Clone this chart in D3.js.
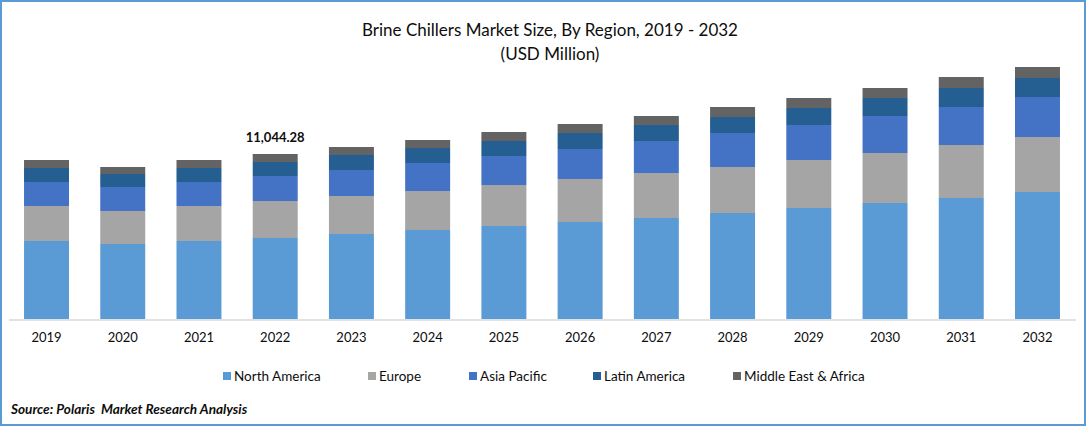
<!DOCTYPE html>
<html lang="en">
<head>
  <meta charset="UTF-8">
  <title>Brine Chillers Market Size, By Region, 2019 - 2032</title>
  <script src="https://cdnjs.cloudflare.com/ajax/libs/d3/7.9.0/d3.min.js"></script>
  <style>
    html, body { margin: 0; padding: 0; background: #fff; }
    svg { display: block; }
    text { font-family: Lato, "Open Sans", sans-serif; fill: #0d0d0d; }
  </style>
</head>
<body>
  <svg width="1086" height="426"></svg>

  <script>
    // Values, USD million
    const years = ["2019", "2020", "2021", "2022", "2023", "2024", "2025", "2026", "2027", "2028", "2029", "2030", "2031", "2032"];
    const regions = ["North America", "Europe", "Asia Pacific", "Latin America", "Middle East & Africa"];
    const northAmerica = [5220, 5020, 5220, 5421, 5689, 5957, 6224, 6492, 6760, 7094, 7429, 7764, 8098, 8500];
    const europe = [2343, 2209, 2343, 2476, 2543, 2610, 2744, 2878, 3012, 3079, 3213, 3347, 3547, 3681];
    const asiaPacific = [1606, 1606, 1606, 1675, 1740, 1874, 1941, 2008, 2142, 2276, 2343, 2476, 2543, 2677];
    const latinAmerica = [937, 870, 937, 937, 1004, 1004, 1004, 1071, 1071, 1071, 1138, 1205, 1272, 1272];
    const middleEastAfrica = [535, 469, 535, 535, 535, 535, 602, 602, 602, 669, 669, 669, 736, 736];
    const colors = ["#5b9bd5", "#a5a5a5", "#4472c4", "#255e91", "#636363"];
    const labelYear = "2022";
    const labelText = "11,044.28";

    const svg = d3.select("svg");
    const seriesValues = [northAmerica, europe, asiaPacific, latinAmerica, middleEastAfrica];

    // Frame around the whole chart
    svg.append("rect")
      .attr("x", 1).attr("y", 1).attr("width", 1084).attr("height", 424)
      .attr("fill", "none").attr("stroke", "#5b9bd5").attr("stroke-width", 2);

    // Title
    const title = svg.append("text").attr("text-anchor", "middle").attr("font-size", 17);
    title.append("tspan").attr("x", 550).attr("y", 36).text("Brine Chillers Market Size, By Region, 2019 - 2032");
    title.append("tspan").attr("x", 550).attr("y", 60).text("(USD Million)");

    // Scales
    const x = d3.scaleBand().domain(years).range([8.4, 1075.6]).paddingInner(0.41).paddingOuter(0.205);
    const y = d3.scaleLinear().domain([0, 17000]).range([319, 65]);

    // Stack the series
    const rows = years.map((year, i) => {
      const row = { year };
      regions.forEach((r, s) => { row[r] = seriesValues[s][i]; });
      return row;
    });
    const stacked = d3.stack().keys(regions)(rows);

    svg.append("g").selectAll("g")
      .data(stacked)
      .join("g")
      .attr("fill", (d, i) => colors[i])
      .selectAll("rect")
      .data(d => d)
      .join("rect")
      .attr("x", d => x(d.data.year))
      .attr("y", d => y(d[1]))
      .attr("width", x.bandwidth())
      .attr("height", d => y(d[0]) - y(d[1]));

    // X axis
    const axis = svg.append("g")
      .attr("transform", "translate(0,319.5)")
      .call(d3.axisBottom(x).tickSize(0).tickPadding(13));
    axis.select(".domain").attr("stroke", "#d9d9d9").attr("stroke-width", 1.5);
    axis.selectAll("text").attr("font-size", 13).attr("font-family", "Lato, 'Open Sans', sans-serif");

    // Value label above 2022
    svg.append("text")
      .attr("x", x(labelYear) + x.bandwidth() / 2)
      .attr("y", 142)
      .attr("text-anchor", "middle")
      .attr("font-size", 13)
      .attr("font-weight", "bold")
      .text(labelText);

    // Legend
    const legendX = [223, 368, 469, 593, 733];
    const legend = svg.append("g").selectAll("g")
      .data(regions)
      .join("g")
      .attr("transform", (d, i) => `translate(${legendX[i]},372)`);
    legend.append("rect")
      .attr("width", 8).attr("height", 8)
      .attr("fill", (d, i) => colors[i]);
    legend.append("text")
      .attr("x", 11).attr("y", 9)
      .attr("font-size", 13.5)
      .text(d => d);

    // Source note
    svg.append("text")
      .attr("x", 11).attr("y", 414)
      .attr("font-size", 13.6)
      .attr("font-weight", "bold")
      .attr("font-style", "italic")
      .style("white-space", "pre")
      .text("Source: Polaris  Market Research Analysis");
  </script>
</body>
</html>
